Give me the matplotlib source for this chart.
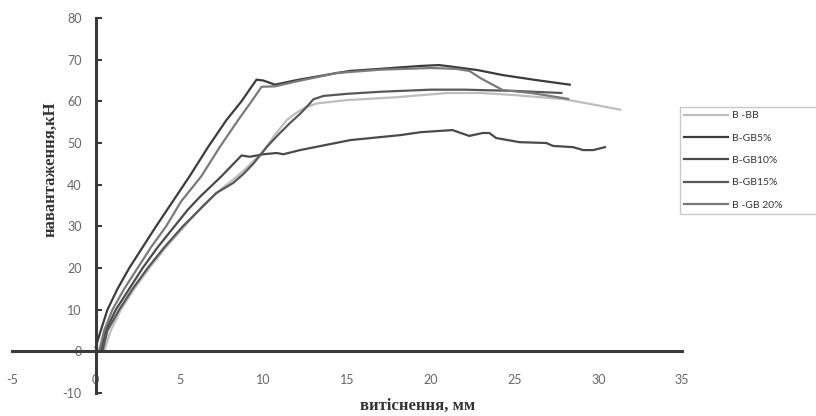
import numpy as np
import matplotlib
matplotlib.use('Agg')
import matplotlib.pyplot as plt

plt.rcParams['axes.unicode_minus'] = False  # мінус як дефіс, як в Excel

# дані (витіснення, мм / навантаження, кН)
x_bb = [0.5, 0.9, 1.5, 2.3, 3.2, 4.2, 5.3, 6.4, 7.5, 8.3, 9.0, 10.0, 10.7, 11.4, 12.0, 12.5, 13.2,
        15.0, 18.0, 21.0, 23.0, 25.0, 28.0, 30.0, 31.3]
y_bb = [0, 5, 10, 15, 20, 25, 30, 35, 39, 41.5, 44, 48, 52, 55.5, 57.3, 58.5, 59.5,
        60.3, 61.0, 62.0, 62.0, 61.5, 60.5, 59.0, 58.0]

x_gb5 = [0, 0.3, 0.7, 1.3, 2.0, 2.8, 3.6, 4.6, 5.6, 6.7, 7.8, 8.7, 9.3, 9.6, 10.0, 10.7, 12.0, 14.4, 15.2,
         17.0, 19.4, 20.5, 21.3, 22.8, 24.3, 26.3, 28.3]
y_gb5 = [1, 5, 10, 15, 20, 25, 30, 36, 42, 49, 55.5, 60, 63.5, 65.2, 65.0, 64.0, 65.1, 66.8, 67.3,
         67.8, 68.5, 68.7, 68.3, 67.5, 66.3, 65.1, 64.0]

x_gb10 = [0.3, 0.6, 1.2, 2.0, 2.8, 3.7, 4.7, 5.5, 6.2, 7.5, 8.1, 8.7, 9.2, 10.0, 10.8, 11.2, 12.2, 15.2,
          18.2, 19.4, 21.3, 22.3, 23.1, 23.5, 23.9, 25.3, 26.9, 27.3, 28.5, 29.1, 29.7, 30.4]
y_gb10 = [0, 5, 10, 15, 20, 25, 30, 34, 37, 42, 44.5, 47.0, 46.7, 47.3, 47.6, 47.3, 48.3, 50.7,
          51.9, 52.6, 53.1, 51.7, 52.4, 52.4, 51.2, 50.2, 50.0, 49.3, 49.0, 48.3, 48.3, 49.0]

x_gb15 = [0.4, 0.7, 1.4, 2.2, 3.1, 4.1, 5.2, 6.2, 7.2, 8.2, 8.8, 9.4, 10.2, 10.9, 11.6, 12.2, 12.6, 13.0,
          13.6, 15.0, 17.0, 20.0, 22.0, 25.0, 27.8]
y_gb15 = [0, 5, 10, 15, 20, 25, 30, 34, 38, 40.4, 42.5, 45, 49, 52, 54.8, 57, 58.7, 60.5,
          61.3, 61.8, 62.3, 62.8, 62.8, 62.5, 62.0]

x_gb20 = [0.2, 0.5, 1.0, 1.7, 2.5, 3.3, 4.2, 5.1, 6.3, 7.4, 8.5, 9.3, 9.9, 10.7, 12.0, 14.4, 17.0,
          20.0, 21.5, 22.3, 23.0, 24.3, 26.0, 28.2]
y_gb20 = [0, 5, 10, 15, 20, 25, 30, 36, 42, 49, 55.5, 60, 63.5, 63.6, 64.8, 66.8, 67.6,
          68.0, 67.8, 67.3, 65.5, 62.7, 62.0, 60.6]

labels = ['B -BB', 'B-GB5%', 'B-GB10%', 'B-GB15%', 'B -GB 20%']
colors = ['#bdbdbd', '#3c3c3c', '#4a4a4a', '#575757', '#7a7a7a']

fig = plt.figure(figsize=(8.16, 4.16), dpi=100)
ax = fig.add_axes([12 / 816, 23 / 416, 670 / 816, 375 / 416])

series = [(x_bb, y_bb), (x_gb5, y_gb5), (x_gb10, y_gb10), (x_gb15, y_gb15), (x_gb20, y_gb20)]
for (xs, ys), lab, c in zip(series, labels, colors):
    ax.plot(xs, ys, color=c, lw=1.6, label=lab, solid_joinstyle='round')

ax.set_xlim(-5, 35)
ax.set_ylim(-10, 80)
ax.set_xticks(np.arange(-5, 36, 5))
ax.set_yticks(np.arange(-10, 81, 10))

# осі перетинаються в нулі
for s in ['top', 'right']:
    ax.spines[s].set_visible(False)
ax.spines['left'].set_position(('data', 0))
ax.spines['bottom'].set_position(('data', 0))
for s in ['left', 'bottom']:
    ax.spines[s].set_color('#3a3a3a')
    ax.spines[s].set_linewidth(2.2)
ax.tick_params(axis='y', direction='in', length=4, width=1.5, color='#3a3a3a',
               pad=10, labelsize=9, labelcolor='#666666')
ax.tick_params(axis='x', length=0, pad=16, labelsize=9, labelcolor='#666666')
for t in ax.get_xticklabels() + ax.get_yticklabels():
    t.set_family('Lato')

fig.text(50 / 816, 1 - 169 / 416, 'навантаження,кН', rotation=90, ha='center', va='center',
         family='Liberation Serif', weight='bold', fontsize=12, color='#333333')
fig.text(418 / 816, 1 - 406 / 416, 'витіснення, мм', ha='center', va='center',
         family='Liberation Serif', weight='bold', fontsize=12, color='#333333')

leg = ax.legend(loc='upper left', bbox_to_anchor=(680 / 816, 1 - 221 / 416, 140 / 816, 114 / 416),
                bbox_transform=fig.transFigure, mode='expand', handlelength=4.2,
                labelspacing=1.25, handletextpad=0.4, borderaxespad=0, fancybox=False,
                prop={'family': 'Lato', 'size': 7.5})
leg.get_frame().set_edgecolor('#bbbbbb')
leg.get_frame().set_linewidth(1.0)
for t in leg.get_texts():
    t.set_color('#333333')

fig.savefig('out.png', dpi=100)
